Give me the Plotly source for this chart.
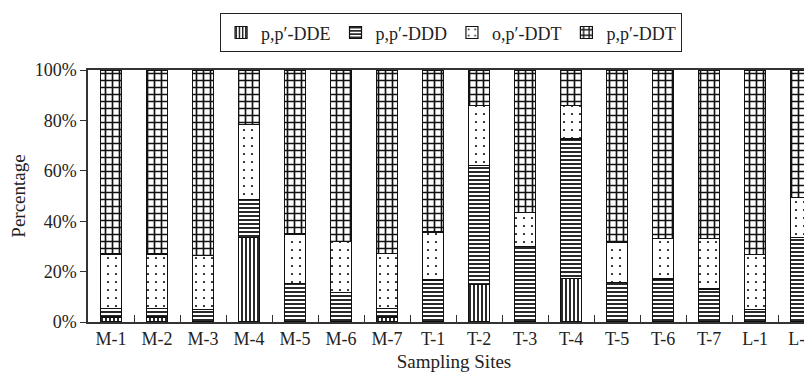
import plotly.graph_objects as go

sites = ["M-1", "M-2", "M-3", "M-4", "M-5", "M-6", "M-7",
         "T-1", "T-2", "T-3", "T-4", "T-5", "T-6", "T-7", "L-1", "L-2"]

pp_dde = [2.0, 2.0, 0.0, 33.5, 0.0, 0.0, 2.0, 0.0, 15.0, 0.0, 17.3, 0.0, 0.0, 0.0, 0.0, 0.0]
pp_ddd = [3.5, 3.5, 5.0, 15.0, 15.3, 11.6, 3.3, 16.7, 47.0, 29.9, 55.3, 15.7, 17.1, 13.1, 5.0, 33.6]
op_ddt = [21.5, 21.5, 21.5, 30.0, 19.6, 20.5, 22.0, 19.0, 23.8, 13.5, 13.2, 15.9, 16.1, 20.1, 21.9, 15.7]
pp_ddt = [73.0, 73.0, 73.5, 21.5, 65.1, 67.9, 72.7, 64.3, 14.2, 56.6, 14.2, 68.4, 66.8, 66.8, 73.1, 50.7]

series = [
    ("p,p\u2032-DDE", pp_dde, dict(shape="|", size=4, solidity=0.45)),
    ("p,p\u2032-DDD", pp_ddd, dict(shape="-", size=4, solidity=0.45)),
    ("o,p\u2032-DDT", op_ddt, dict(shape=".", size=8, solidity=0.06)),
    ("p,p\u2032-DDT", pp_ddt, dict(shape="+", size=7, solidity=0.42)),
]

FONT = "Liberation Serif"
fig = go.Figure()
for name, vals, pat in series:
    fig.add_trace(go.Bar(
        x=sites, y=vals, name=name,
        marker=dict(color="white",
                    line=dict(color="#111", width=1.2),
                    pattern=dict(fgcolor="#111", bgcolor="white", fillmode="replace", **pat)),
    ))

fig.update_layout(
    width=812, height=380,
    barmode="stack",
    bargap=0.54,
    plot_bgcolor="white", paper_bgcolor="white",
    margin=dict(l=80, r=0, t=62, b=66, autoexpand=False),
    font=dict(family=FONT, size=18, color="#222"),
    legend=dict(orientation="h", x=0.496, xanchor="center", y=1.225, yanchor="top",
                bordercolor="#222", borderwidth=1, font=dict(family=FONT, size=18),
                traceorder="normal", itemwidth=30),
    xaxis=dict(
        type="category", range=[-0.5, 15.41], automargin=False,
        showline=True, linecolor="#333", linewidth=1.5, mirror=True,
        ticks="inside", tickson="boundaries", ticklen=7, tickcolor="#333",
        tickfont=dict(family=FONT, size=18),
        title=dict(text="Sampling Sites", font=dict(family=FONT, size=19), standoff=6),
        showgrid=False,
    ),
    yaxis=dict(
        range=[0, 100], dtick=20, ticksuffix="%", automargin=False,
        showline=True, linecolor="#333", linewidth=1.5,
        ticks="outside", ticklen=6, tickcolor="#333",
        tickfont=dict(family=FONT, size=18),
        title=dict(text="Percentage", font=dict(family=FONT, size=19), standoff=4),
        showgrid=False, zeroline=False,
    ),
)

fig.write_html("out.html")
